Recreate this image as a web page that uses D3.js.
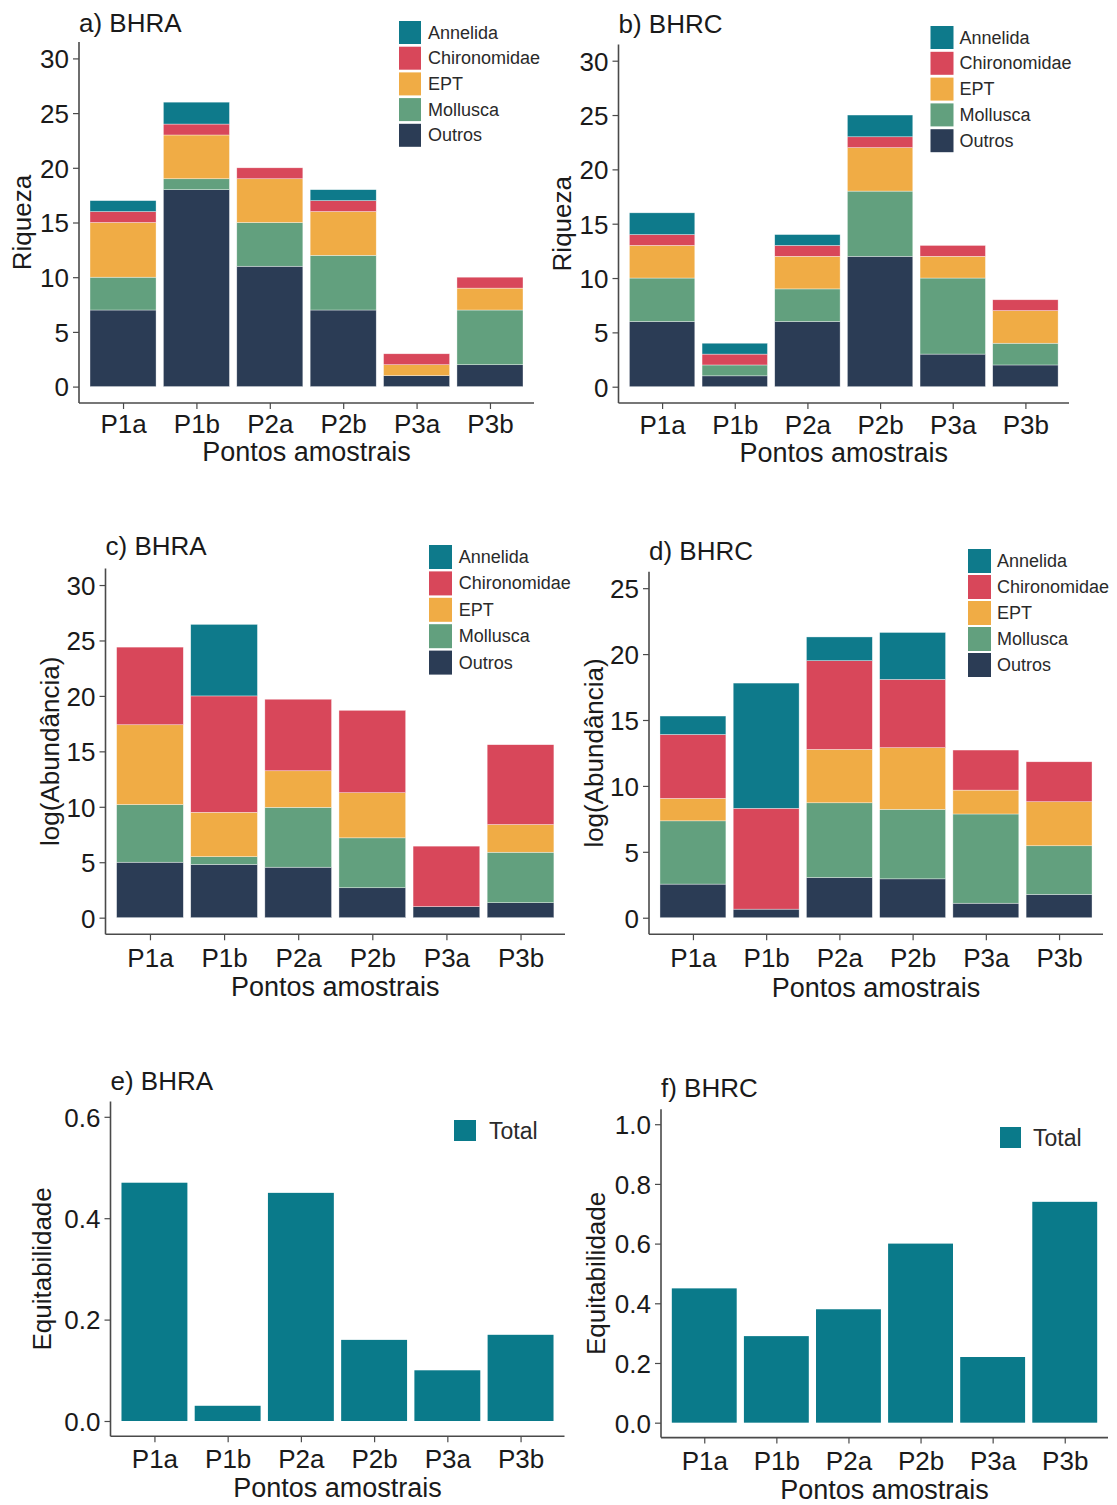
<!DOCTYPE html>
<html>
<head>
<meta charset="utf-8">
<script src="https://cdn.jsdelivr.net/npm/d3@7"></script>
<style>
  html, body { margin: 0; padding: 0; background: #fff; }
  svg { display: block; font-family: "Liberation Sans", Arial, sans-serif; }
</style>
</head>
<body>
<svg id="chart" width="1117" height="1505"></svg>
<script>
// ---------------- DATA ----------------
const sites = ["P1a", "P1b", "P2a", "P2b", "P3a", "P3b"];
const groups = ["Outros", "Mollusca", "EPT", "Chironomidae", "Annelida"]; // stacking order (bottom -> top)
const legendOrder = ["Annelida", "Chironomidae", "EPT", "Mollusca", "Outros"];

// a) Riqueza BHRA
const riqBHRA_Outros       = [7, 18, 11, 7, 1, 2];
const riqBHRA_Mollusca     = [3, 1, 4, 5, 0, 5];
const riqBHRA_EPT          = [5, 4, 4, 4, 1, 2];
const riqBHRA_Chironomidae = [1, 1, 1, 1, 1, 1];
const riqBHRA_Annelida     = [1, 2, 0, 1, 0, 0];

// b) Riqueza BHRC
const riqBHRC_Outros       = [6, 1, 6, 12, 3, 2];
const riqBHRC_Mollusca     = [4, 1, 3, 6, 7, 2];
const riqBHRC_EPT          = [3, 0, 3, 4, 2, 3];
const riqBHRC_Chironomidae = [1, 1, 1, 1, 1, 1];
const riqBHRC_Annelida     = [2, 1, 1, 2, 0, 0];

// c) log(Abundância) BHRA
const abuBHRA_Outros       = [5.0, 4.8, 4.55, 2.7, 1.0, 1.35];
const abuBHRA_Mollusca     = [5.2, 0.7, 5.4, 4.5, 0, 4.55];
const abuBHRA_EPT          = [7.2, 4.0, 3.3, 4.07, 0, 2.5];
const abuBHRA_Chironomidae = [7.0, 10.5, 6.45, 7.43, 5.45, 7.2];
const abuBHRA_Annelida     = [0, 6.45, 0, 0, 0, 0];

// d) log(Abundância) BHRC
const abuBHRC_Outros       = [2.55, 0.65, 3.05, 2.95, 1.1, 1.77];
const abuBHRC_Mollusca     = [4.8, 0, 5.67, 5.27, 6.77, 3.69];
const abuBHRC_EPT          = [1.7, 0, 4.05, 4.68, 1.81, 3.34];
const abuBHRC_Chironomidae = [4.85, 7.65, 6.73, 5.18, 3.04, 3.03];
const abuBHRC_Annelida     = [1.4, 9.5, 1.8, 3.56, 0, 0];

// e) / f) Equitabilidade
const eqBHRA = [0.47, 0.03, 0.45, 0.16, 0.10, 0.17];
const eqBHRC = [0.45, 0.29, 0.38, 0.60, 0.22, 0.74];

const ticksRiq = [0, 5, 10, 15, 20, 25, 30];
const ticksAbuC = [0, 5, 10, 15, 20, 25, 30];
const ticksAbuD = [0, 5, 10, 15, 20, 25];
const ticksEqE = [0, 0.2, 0.4, 0.6];
const ticksEqF = [0, 0.2, 0.4, 0.6, 0.8, 1.0];

const colors = {
  Annelida: "#0E7A8B",
  Chironomidae: "#D8475A",
  EPT: "#F0AC45",
  Mollusca: "#62A07E",
  Outros: "#2B3C55"
};
const totalColor = "#0A7A8A";

function rows(o, m, e, c, a) {
  return sites.map((s, i) => ({ site: s, Outros: o[i], Mollusca: m[i], EPT: e[i], Chironomidae: c[i], Annelida: a[i] }));
}

// ---------------- LAYOUT ----------------
const panels = [
  { title: "a) BHRA", ylab: "Riqueza", data: rows(riqBHRA_Outros, riqBHRA_Mollusca, riqBHRA_EPT, riqBHRA_Chironomidae, riqBHRA_Annelida),
    x0: 79, x1: 534, yTop: 42, yBot: 403, dom: [-1.5, 31.5], ticks: ticksRiq, fmt: d3.format("d"),
    titleY: 32, ylabX: 22, legend: { x: 399, y: 21, w: 22, h: 23, step: 25.7, lx: 428 }, tickY: 433, xlabY: 461 },
  { title: "b) BHRC", ylab: "Riqueza", data: rows(riqBHRC_Outros, riqBHRC_Mollusca, riqBHRC_EPT, riqBHRC_Chironomidae, riqBHRC_Annelida),
    x0: 618.5, x1: 1069, yTop: 44.4, yBot: 403, dom: [-1.5, 31.5], ticks: ticksRiq, fmt: d3.format("d"),
    titleY: 33, ylabX: 562, legend: { x: 930.5, y: 26, w: 23, h: 23, step: 25.8, lx: 959.5 }, tickY: 434, xlabY: 462 },
  { title: "c) BHRA", ylab: "log(Abundância)", data: rows(abuBHRA_Outros, abuBHRA_Mollusca, abuBHRA_EPT, abuBHRA_Chironomidae, abuBHRA_Annelida),
    x0: 105.5, x1: 565, yTop: 568.4, yBot: 934.3, dom: [-1.5, 31.5], ticks: ticksAbuC, fmt: d3.format("d"),
    titleY: 555, ylabX: 50, legend: { x: 429, y: 545, w: 23, h: 24, step: 26.4, lx: 458.7 }, tickY: 967, xlabY: 996 },
  { title: "d) BHRC", ylab: "log(Abundância)", data: rows(abuBHRC_Outros, abuBHRC_Mollusca, abuBHRC_EPT, abuBHRC_Chironomidae, abuBHRC_Annelida),
    x0: 649, x1: 1103, yTop: 571.7, yBot: 934.2, dom: [-1.25, 26.25], ticks: ticksAbuD, fmt: d3.format("d"),
    titleY: 560, ylabX: 594, legend: { x: 968, y: 549, w: 23, h: 24, step: 26, lx: 997 }, tickY: 967, xlabY: 997 },
  { title: "e) BHRA", ylab: "Equitabilidade", total: eqBHRA,
    x0: 110.5, x1: 564.5, yTop: 1101.6, yBot: 1436.2, dom: [-0.03, 0.63], ticks: ticksEqE, fmt: d3.format(".1f"),
    titleY: 1090, ylabX: 42, legend: { x: 454, y: 1120, w: 22, h: 21, step: 26, lx: 489 }, tickY: 1468, xlabY: 1497 },
  { title: "f) BHRC", ylab: "Equitabilidade", total: eqBHRC,
    x0: 661, x1: 1108, yTop: 1109.3, yBot: 1437.6, dom: [-0.05, 1.05], ticks: ticksEqF, fmt: d3.format(".1f"),
    titleY: 1097, ylabX: 596, legend: { x: 1000, y: 1127, w: 21, h: 21, step: 26, lx: 1033 }, tickY: 1470, xlabY: 1499 }
];

const svg = d3.select("#chart");
const axisColor = "#4a4a4a";
const textColor = "#1a1a1a";

panels.forEach(p => {
  const g = svg.append("g");
  // ggplot-like discrete axis: 0.6 units expansion on each side, bar width 0.9
  const unit = (p.x1 - p.x0) / (sites.length - 1 + 1.2);
  const xc = d3.scalePoint().domain(sites).range([p.x0 + 0.6 * unit, p.x1 - 0.6 * unit]);
  const bw = 0.9 * unit;
  const y = d3.scaleLinear().domain(p.dom).range([p.yBot, p.yTop]);

  if (p.data) {
    const stack = d3.stack().keys(groups)(p.data);
    stack.forEach(layer => {
      g.append("g").selectAll("rect").data(layer).join("rect")
        .attr("x", d => xc(d.data.site) - bw / 2)
        .attr("width", bw)
        .attr("y", d => y(d[1]))
        .attr("height", d => Math.max(0, y(d[0]) - y(d[1])))
        .attr("fill", colors[layer.key])
        .attr("stroke", "#ffffff")
        .attr("stroke-opacity", d => (d[1] - d[0]) > 0 ? 0.6 : 0)
        .attr("stroke-width", 0.6);
    });
  } else {
    g.append("g").selectAll("rect").data(p.total).join("rect")
      .attr("x", (d, i) => xc(sites[i]) - bw / 2)
      .attr("width", bw)
      .attr("y", d => y(d))
      .attr("height", d => y(0) - y(d))
      .attr("fill", totalColor);
  }

  // Y axis
  const yAxis = d3.axisLeft(y).tickValues(p.ticks).tickFormat(p.fmt).tickSize(6).tickPadding(4);
  const ya = g.append("g").attr("transform", `translate(${p.x0},0)`).call(yAxis);
  // X axis
  const xAxis = d3.axisBottom(xc).tickSize(6).tickPadding(6);
  const xa = g.append("g").attr("transform", `translate(0,${p.yBot})`).call(xAxis);
  [ya, xa].forEach(a => {
    a.select(".domain").attr("stroke", axisColor).attr("stroke-width", 1.6)
      .attr("d", a === ya ? `M0,${p.yTop}V${p.yBot}` : `M${p.x0},0H${p.x1}`);
    a.selectAll(".tick line").attr("stroke", axisColor).attr("stroke-width", 1.2);
    a.selectAll(".tick text").attr("fill", textColor).style("font-size", "26px")
      .style("font-family", '"Liberation Sans", Arial, sans-serif');
  });
  ya.selectAll(".tick text").attr("dy", "0.36em");
  xa.selectAll(".tick text").attr("dy", null).attr("y", p.tickY - p.yBot);

  // Title
  g.append("text").attr("x", p.x0).attr("y", p.titleY)
    .attr("fill", textColor).style("font-size", "26px").text(p.title);
  // X label
  g.append("text").attr("x", (p.x0 + p.x1) / 2).attr("y", p.xlabY)
    .attr("text-anchor", "middle").attr("fill", textColor).style("font-size", "27px").text("Pontos amostrais");
  // Y label
  g.append("text")
    .attr("transform", `translate(${p.ylabX},${(p.yTop + p.yBot) / 2}) rotate(-90)`)
    .attr("text-anchor", "middle").attr("dominant-baseline", "central")
    .attr("fill", textColor).style("font-size", "26px").text(p.ylab);

  // Legend
  const L = p.legend;
  const items = p.data ? legendOrder : ["Total"];
  const fs = p.data ? 18 : 23;
  const lg = g.append("g");
  lg.selectAll("rect").data(items).join("rect")
    .attr("x", L.x).attr("y", (d, i) => L.y + i * L.step)
    .attr("width", L.w).attr("height", L.h)
    .attr("fill", d => d === "Total" ? totalColor : colors[d]);
  lg.selectAll("text").data(items).join("text")
    .attr("x", L.lx).attr("y", (d, i) => L.y + i * L.step + L.h / 2)
    .attr("dominant-baseline", "central")
    .attr("fill", "#2a2a2a").style("font-size", fs + "px").text(d => d);
});
</script>
</body>
</html>
